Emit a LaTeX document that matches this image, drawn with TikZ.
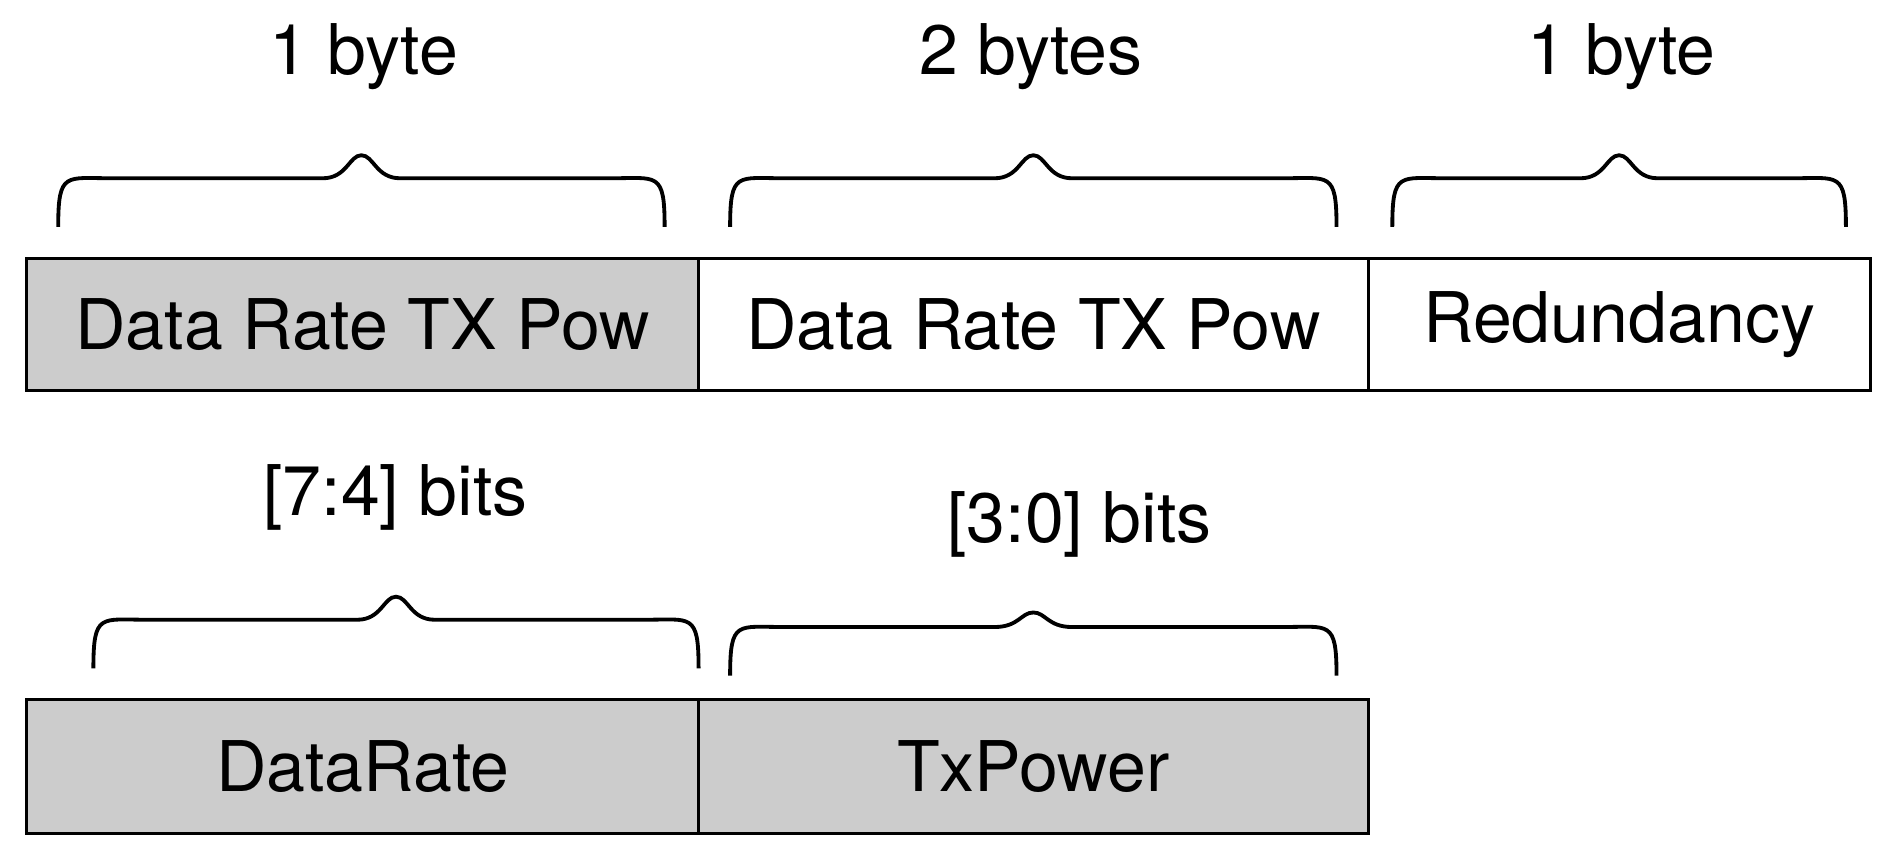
\documentclass[tikz,border=0pt]{standalone}
\usepackage{fontspec}
\setmainfont{TeX Gyre Heros}
\newcommand\mybrace[4]{% x1, x2, ybottom, ytip (display px, y down)
  \pgfmathsetmacro\xm{(#1+#2)/2}\pgfmathsetmacro\yf{#3-40}
  \draw[brc] (#1,-#3) .. controls (#1,-\yf+6) and (#1+6,-\yf) .. (#1+45,-\yf)
    -- (\xm-32,-\yf) .. controls (\xm-12,-\yf) and (\xm-10,-#4) .. (\xm,-#4)
    .. controls (\xm+10,-#4) and (\xm+12,-\yf) .. (\xm+32,-\yf)
    -- (#2-45,-\yf) .. controls (#2-6,-\yf) and (#2,-\yf+6) .. (#2,-#3);}
\begin{document}
\begin{tikzpicture}[x=0.02cm,y=0.02cm,
  brc/.style={line width=1.8pt},
  lbl/.style={font=\fontsize{32.8}{38}\selectfont,inner sep=0pt}]
\useasboundingbox (0,0) rectangle (1560,-713);
\fill[gray!40] (22,-213) rectangle (576,-322);
\fill[gray!40] (22,-577) rectangle (1128,-687);
\draw[line width=1.4pt] (22,-213) rectangle (1542,-322);
\draw[line width=1.4pt] (576,-213) -- (576,-322) (1128,-213) -- (1128,-322);
\draw[line width=1.4pt] (22,-577) rectangle (1128,-687);
\draw[line width=1.4pt] (576,-577) -- (576,-687);
\node[lbl] (a1) at (299,-268) {Data Rate TX Pow};
\node[lbl] (a2) at (852,-268) {Data Rate TX Pow};
\node[lbl] (a3) at (1335,-268) {Redundancy};
\node[lbl] (b1) at (299,-632) {DataRate};
\node[lbl] (b2) at (852,-632) {TxPower};
\node[lbl] (t1) at (300,-47) {1 byte};
\node[lbl] (t2) at (850,-47) {2 bytes};
\node[lbl] (t3) at (1337,-47) {1 byte};
\node[lbl] (t4) at (326,-410) {[7:4] bits};
\node[lbl] (t5) at (890,-432) {[3:0] bits};
\mybrace{48}{548}{187}{128}
\mybrace{602}{1102}{187}{128}
\mybrace{1148}{1522}{187}{128}
\mybrace{77}{576}{551}{492}
\mybrace{602}{1102}{557}{505}
\end{tikzpicture}
\end{document}
